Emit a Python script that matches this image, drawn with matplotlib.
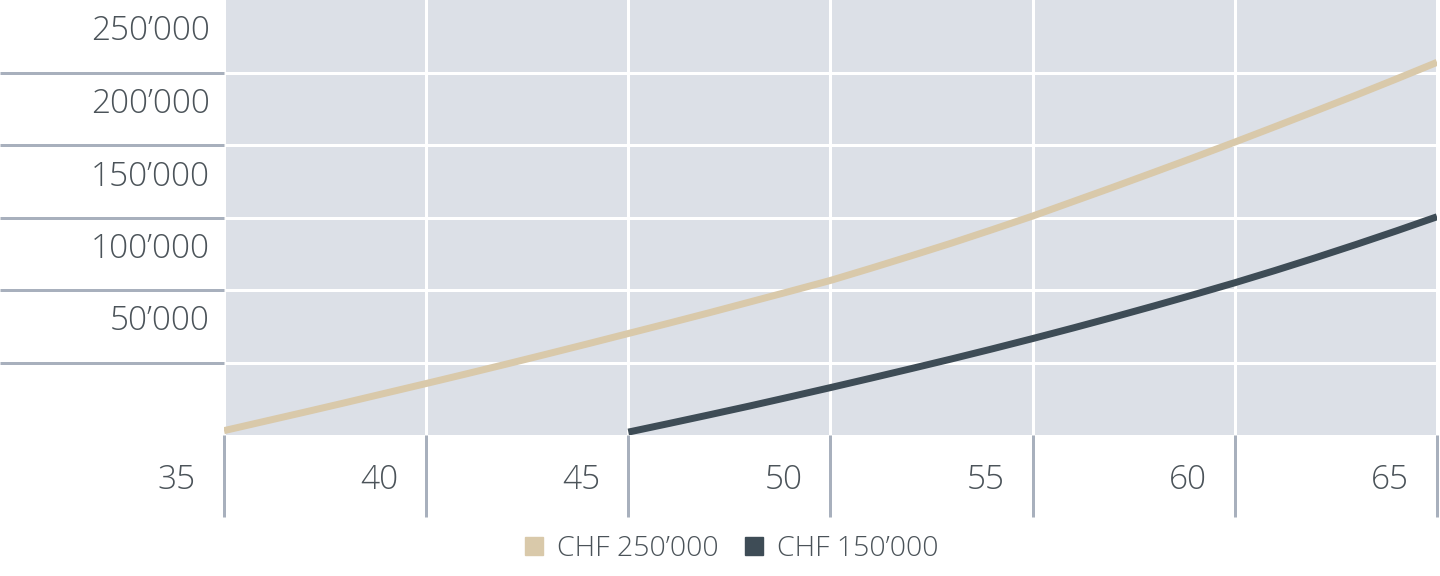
import matplotlib
matplotlib.use("Agg")
import matplotlib.pyplot as plt
from matplotlib.lines import Line2D
from matplotlib.transforms import ScaledTranslation, blended_transform_factory

plt.rcParams['font.family'] = ['Open Sans', 'DejaVu Sans']

# ---- data ----
ages_a = list(range(35, 66))
capital_250 = [3000, 9400, 15800, 22300, 28900, 35500, 42200, 49000, 55900, 62900,
               70000, 77100, 84300, 91700, 99100, 106600, 115000, 123600, 132400, 141600,
               151000, 161000, 171000, 181200, 191500, 202000, 212700, 223500, 234400,
               245600, 257000]
ages_b = list(range(45, 66))
capital_150 = [2000, 7900, 13900, 20000, 26300, 32700, 39200, 45800, 52500, 59400,
               66500, 73800, 81300, 89000, 96900, 105000, 113500, 122300, 131400,
               140800, 150500]
x_ticks = [35, 40, 45, 50, 55, 60, 65]
y_ticks = [50000, 100000, 150000, 200000, 250000]
y_labels = ["50\u2019000", "100\u2019000", "150\u2019000", "200\u2019000", "250\u2019000"]
series_names = ["CHF 250\u2019000", "CHF 150\u2019000"]

# ---- style ----
BG = "#dce0e7"
TICKC = "#a8b0bd"
TEXTC = "#4b5359"
C_LIGHT = "#d9c9aa"
C_DARK = "#3e4c56"
DPI = 100
px = 72.0 / DPI  # points per pixel

fig = plt.figure(figsize=(14.4, 5.76), dpi=DPI)
ax = fig.add_axes([224 / 1440, (576 - 435) / 576, (1437 - 224) / 1440, 435 / 576])
ax.set_facecolor(BG)
ax.set_xlim(35, 65)
ax.set_ylim(0, 300000)
for s in ax.spines.values():
    s.set_visible(False)

ax.set_xticks(x_ticks)
ax.set_yticks(y_ticks)
ax.set_xticklabels([])
ax.set_yticklabels([])
ax.tick_params(axis='y', direction='out', length=224 * px, width=3 * px, color=TICKC)
ax.tick_params(axis='x', direction='out', length=82 * px, width=3 * px, color=TICKC)
ax.grid(True, color='white', linewidth=3 * px)
ax.set_axisbelow(True)

ax.plot(ages_a, capital_250, color=C_LIGHT, linewidth=7 * px, solid_capstyle='butt', zorder=3)
ax.plot(ages_b, capital_150, color=C_DARK, linewidth=7 * px, solid_capstyle='butt', zorder=3)

# y labels: right-aligned, sitting above their gridline
ty = blended_transform_factory(ax.transAxes, ax.transData)
for v, lab in zip(y_ticks, y_labels):
    ax.text(0, v, lab, transform=ty + ScaledTranslation(-14 / DPI, 32 / DPI, fig.dpi_scale_trans),
            ha='right', va='baseline', fontsize=24, color=TEXTC, fontweight='light', clip_on=False)

# x labels: left of their tick line
tx = blended_transform_factory(ax.transData, ax.transAxes)
for v in x_ticks:
    ax.text(v, 0, str(v), transform=tx + ScaledTranslation(-28 / DPI, -45 / DPI, fig.dpi_scale_trans),
            ha='right', va='center', fontsize=24, color=TEXTC, fontweight='light', clip_on=False)

handles = [Line2D([], [], marker='s', linestyle='none', markersize=18 * px, color=c)
           for c in (C_LIGHT, C_DARK)]
fig.legend(handles, series_names, loc='center', bbox_to_anchor=(731 / 1440, 1 - 549 / 576),
           ncol=2, frameon=False, labelcolor=TEXTC, handlelength=0.7,
           handletextpad=0.45, columnspacing=0.9, borderpad=0,
           prop={'weight': 'light', 'size': 20.5})

fig.savefig("out.png", dpi=DPI)
